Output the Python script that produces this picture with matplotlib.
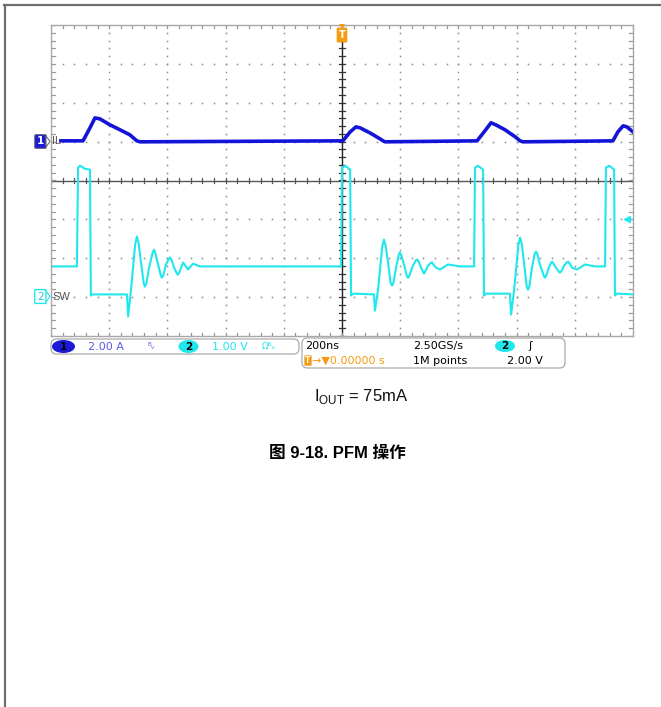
import matplotlib
matplotlib.use("Agg")
import matplotlib.pyplot as plt
import numpy as np
from matplotlib.patches import FancyBboxPatch, Ellipse, Polygon
from matplotlib.lines import Line2D

# ---------------- data ----------------
# Channel 1: inductor current IL (A), 2.00 A/div
il_time_ns = [-966, -890, -866, -849, -832, -797, -763, -729, -705, -694,
              0, 3, 28, 48, 62, 96, 131, 141, 148,
              464, 491, 512, 529, 560, 595, 612, 622,
              931, 948, 966, 979, 1000]
il_amps = [0.00, 0.00, 0.67, 1.18, 1.13, 0.82, 0.57, 0.31, 0.00, -0.05,
           0.00, 0.00, 0.46, 0.72, 0.67, 0.41, 0.10, 0.00, -0.05,
           0.00, 0.51, 0.93, 0.82, 0.57, 0.21, 0.00, -0.05,
           0.00, 0.46, 0.77, 0.72, 0.46]

# Channel 2: switch node SW (V), 1.00 V/div
sw_time_ns = [-1000, -911, -907, -900, -883, -866, -863, -856, -739, -735, -725,
              -711, -705, -699, -691, -681, -677, -672, -663, -651, -646, -641,
              -632, -622, -619, -614, -605, -595, -591, -586, -577, -567, -564,
              -560, -546, -529, -512, -488,
              -3, 0, 10, 28, 31, 38, 110, 113, 124, 138, 144, 150, 158, 167,
              172, 177, 186, 195, 199, 204, 213, 223, 227, 232, 241, 253, 258,
              263, 272, 279, 282, 286, 296, 305, 309, 314, 323, 337, 364, 406,
              454, 457, 467, 485, 488, 495, 577, 581, 591, 606, 612, 618, 625,
              635, 639, 644, 653, 662, 667, 672, 680, 694, 698, 702, 711, 718,
              722, 726, 735, 745, 749, 754, 763, 772, 777, 782, 790, 808, 835,
              869, 904, 907, 918, 935, 938, 945, 1000]
sw_volts = [0.75, 0.75, 3.29, 3.34, 3.26, 3.24, 0.00, 0.03, 0.03, -0.54, 0.15,
            1.30, 1.52, 1.35, 0.87, 0.30, 0.23, 0.32, 0.72, 1.10, 1.18, 1.08,
            0.80, 0.50, 0.46, 0.52, 0.80, 0.95, 0.98, 0.92, 0.72, 0.56, 0.54,
            0.58, 0.85, 0.67, 0.82, 0.75,
            0.75, 3.29, 3.34, 3.24, 0.00, 0.05, 0.03, -0.39, 0.15, 1.25, 1.44,
            1.28, 0.87, 0.32, 0.26, 0.34, 0.72, 1.05, 1.11, 1.03, 0.80, 0.50,
            0.46, 0.52, 0.72, 0.90, 0.93, 0.88, 0.72, 0.60, 0.57, 0.62, 0.77,
            0.84, 0.85, 0.80, 0.72, 0.67, 0.80, 0.75,
            0.75, 3.29, 3.34, 3.24, 0.00, 0.05, 0.05, -0.49, 0.10, 1.30, 1.49,
            1.32, 0.87, 0.22, 0.15, 0.24, 0.72, 1.07, 1.13, 1.05, 0.80, 0.50,
            0.46, 0.52, 0.72, 0.84, 0.87, 0.83, 0.72, 0.62, 0.59, 0.63, 0.77,
            0.85, 0.87, 0.83, 0.72, 0.67, 0.80, 0.75,
            0.75, 3.29, 3.34, 3.24, 0.00, 0.05, 0.03]

ch1_scale = 2.0      # A/div
ch1_offset = 1.02    # div
ch2_scale = 1.0      # V/div
ch2_offset = -2.96   # div
trig_level_div = -0.98  # trigger level marker position (div)

ch1_label = "2.00 A"
ch2_label = "1.00 V"
timebase = "200ns"
samplerate = "2.50GS/s"
record = "1M points"
trig_delay = "0.00000 s"
trig_volt = "2.00 V"
caption = "图 9-18. PFM 操作"

W, H = 661, 707
fig = plt.figure(figsize=(W / 100, H / 100), dpi=100)
fig.patch.set_facecolor("white")

def fx(px):
    return px / W

def fy(py):
    return 1 - py / H

# page border
fig.add_artist(Line2D([fx(4), fx(661)], [fy(5), fy(5)], color="#6e6e6e", lw=1.6))
fig.add_artist(Line2D([fx(5), fx(5)], [fy(5), fy(707)], color="#6e6e6e", lw=1.6))

# scope axes
ax = fig.add_axes([fx(51), fy(336), fx(633) - fx(51), fy(25) - fy(336)])
ax.set_xlim(-1000, 1000)
ax.set_ylim(-4, 4)
ax.set_xticks([]); ax.set_yticks([])
for s in ax.spines.values():
    s.set_color("#a8a8a8"); s.set_linewidth(1.0)

dot_c = "#8c8c8c"
minor_x = np.arange(-1000, 1001, 40)
minor_y = np.arange(-4, 4.01, 0.2)
for gy in [-3, -2, -1, 1, 2, 3]:
    ax.plot(minor_x, np.full_like(minor_x, gy, dtype=float), ls="none", marker="s",
            ms=1.1, color=dot_c, mew=0)
for gx in [-800, -600, -400, -200, 200, 400, 600, 800]:
    ax.plot(np.full_like(minor_y, gx), minor_y, ls="none", marker="s", ms=1.1,
            color=dot_c, mew=0)
ax.axhline(0, color="#555555", lw=1.0)
ax.axvline(0, color="#222222", lw=1.0)
for xv in minor_x:
    ax.plot([xv, xv], [-0.07, 0.07], color="#555555", lw=0.9)
    ax.plot([xv, xv], [3.93, 4.0], color="#999999", lw=0.9)
    ax.plot([xv, xv], [-4.0, -3.93], color="#999999", lw=0.9)
for yv in minor_y:
    ax.plot([-12, 12], [yv, yv], color="#333333", lw=0.9)
    ax.plot([-1000, -985], [yv, yv], color="#999999", lw=0.9)
    ax.plot([985, 1000], [yv, yv], color="#999999", lw=0.9)

# traces
sw_div = ch2_offset + np.array(sw_volts) / ch2_scale
ax.plot(sw_time_ns, sw_div, color="#1ee8ee", lw=1.5, solid_joinstyle="round")
il_div = ch1_offset + np.array(il_amps) / ch1_scale
ax.plot(il_time_ns, il_div, color="#1414d8", lw=2.6)

# trigger level marker on right edge
ax.plot([978], [trig_level_div], marker="<", color="#1ee8ee", ms=5, clip_on=False)

# ---- channel markers ----
m1 = FancyBboxPatch((fx(36), fy(147)), fx(9), fy(136) - fy(147),
                    boxstyle="round,pad=0.002", fc="#1a1ad8", ec="#707070", lw=0.8)
fig.add_artist(m1)
fig.add_artist(Polygon([[fx(46), fy(136)], [fx(50), fy(141.5)], [fx(46), fy(147)]],
                       closed=True, fc="white", ec="#707070", lw=0.8))
fig.text(fx(40.5), fy(141.5), "1", color="white", fontsize=7.5, fontweight="bold",
         ha="center", va="center")
fig.text(fx(52), fy(141.5), "IL", color="#555555", fontsize=8, ha="left",
         va="center", family="Liberation Sans")

m2 = FancyBboxPatch((fx(36), fy(302)), fx(9), fy(291) - fy(302),
                    boxstyle="round,pad=0.002", fc="white", ec="#1ee8ee", lw=1.0)
fig.add_artist(m2)
fig.add_artist(Polygon([[fx(46), fy(291)], [fx(50), fy(296.5)], [fx(46), fy(302)]],
                       closed=True, fc="white", ec="#1ee8ee", lw=0.8))
fig.text(fx(40.5), fy(296.5), "2", color="#1ec8d8", fontsize=7.5,
         ha="center", va="center")
fig.text(fx(52), fy(296.5), "SW", color="#555555", fontsize=8, ha="left",
         va="center", family="Liberation Sans")

# trigger "T" marker at top
orange = "#f39c12"
fig.add_artist(Polygon([[fx(339), fy(24)], [fx(345), fy(24)], [fx(342), fy(28)]],
                       closed=True, fc=orange, ec="none"))
fig.add_artist(FancyBboxPatch((fx(338), fy(41)), fx(8), fy(29) - fy(41),
                              boxstyle="round,pad=0.002", fc=orange, ec="none"))
fig.text(fx(342), fy(35), "T", color="white", fontsize=7, fontweight="bold",
         ha="center", va="center")

# ---- status bars ----
fs = 8
fig.add_artist(FancyBboxPatch((fx(51), fy(354)), fx(248), fy(339) - fy(354),
                              boxstyle="round,pad=0,rounding_size=0.008",
                              fc="white", ec="#a0a0a0", lw=0.8))
fig.add_artist(Ellipse((fx(63.5), fy(346.5)), fx(23), fy(340) - fy(353),
                       fc="#1a1ad8", ec="none"))
fig.text(fx(63.5), fy(346.5), "1", color="black", fontsize=7.5, fontweight="bold",
         ha="center", va="center")
fig.text(fx(88), fy(346.5), ch1_label, color="#5a5ae6", fontsize=fs,
         ha="left", va="center")
fig.text(fx(148), fy(346.5), "ᴮᵥ", color="#5a5ae6", fontsize=6.5, ha="left",
         va="center")
fig.add_artist(Ellipse((fx(188.5), fy(346.5)), fx(20), fy(340) - fy(353),
                       fc="#1ee8ee", ec="none"))
fig.text(fx(188.5), fy(346.5), "2", color="black", fontsize=7.5, fontweight="bold",
         ha="center", va="center")
fig.text(fx(212), fy(346.5), ch2_label, color="#1ee8ee", fontsize=fs,
         ha="left", va="center")
fig.text(fx(262), fy(346.5), "Ωᴮᵥ", color="#1ee8ee", fontsize=6.5, ha="left",
         va="center")

fig.add_artist(FancyBboxPatch((fx(302), fy(368)), fx(263), fy(338) - fy(368),
                              boxstyle="round,pad=0,rounding_size=0.008",
                              fc="white", ec="#a0a0a0", lw=0.8))
fig.text(fx(305), fy(346), timebase, color="black", fontsize=fs, ha="left",
         va="center")
fig.text(fx(413), fy(346), samplerate, color="black", fontsize=fs, ha="left",
         va="center")
fig.add_artist(Ellipse((fx(505), fy(346)), fx(20), fy(340) - fy(352),
                       fc="#1ee8ee", ec="none"))
fig.text(fx(505), fy(346), "2", color="black", fontsize=7.5, fontweight="bold",
         ha="center", va="center")
fig.text(fx(528), fy(346), "ʃ", color="black", fontsize=fs, ha="left",
         va="center")
fig.add_artist(FancyBboxPatch((fx(305), fy(365)), fx(6), fy(356) - fy(365),
                              boxstyle="round,pad=0.001", fc=orange, ec="none"))
fig.text(fx(308), fy(360.5), "T", color="white", fontsize=5.5, fontweight="bold",
         ha="center", va="center")
fig.text(fx(312), fy(360.5), "→▼" + trig_delay, color=orange, fontsize=fs,
         ha="left", va="center")
fig.text(fx(413), fy(360.5), record, color="black", fontsize=fs, ha="left",
         va="center")
fig.text(fx(507), fy(360.5), trig_volt, color="black", fontsize=fs, ha="left",
         va="center")

# ---- captions ----
fig.text(fx(361), fy(396), r"I$_{\mathregular{OUT}}$ = 75mA", color="#111111",
         fontsize=12, ha="center", va="center", family="Liberation Sans")
fig.text(fx(337), fy(453), caption, color="black", fontsize=12, fontweight="bold",
         ha="center", va="center", family=["Liberation Sans", "Noto Sans CJK SC"])

fig.savefig("out.png", dpi=100)
